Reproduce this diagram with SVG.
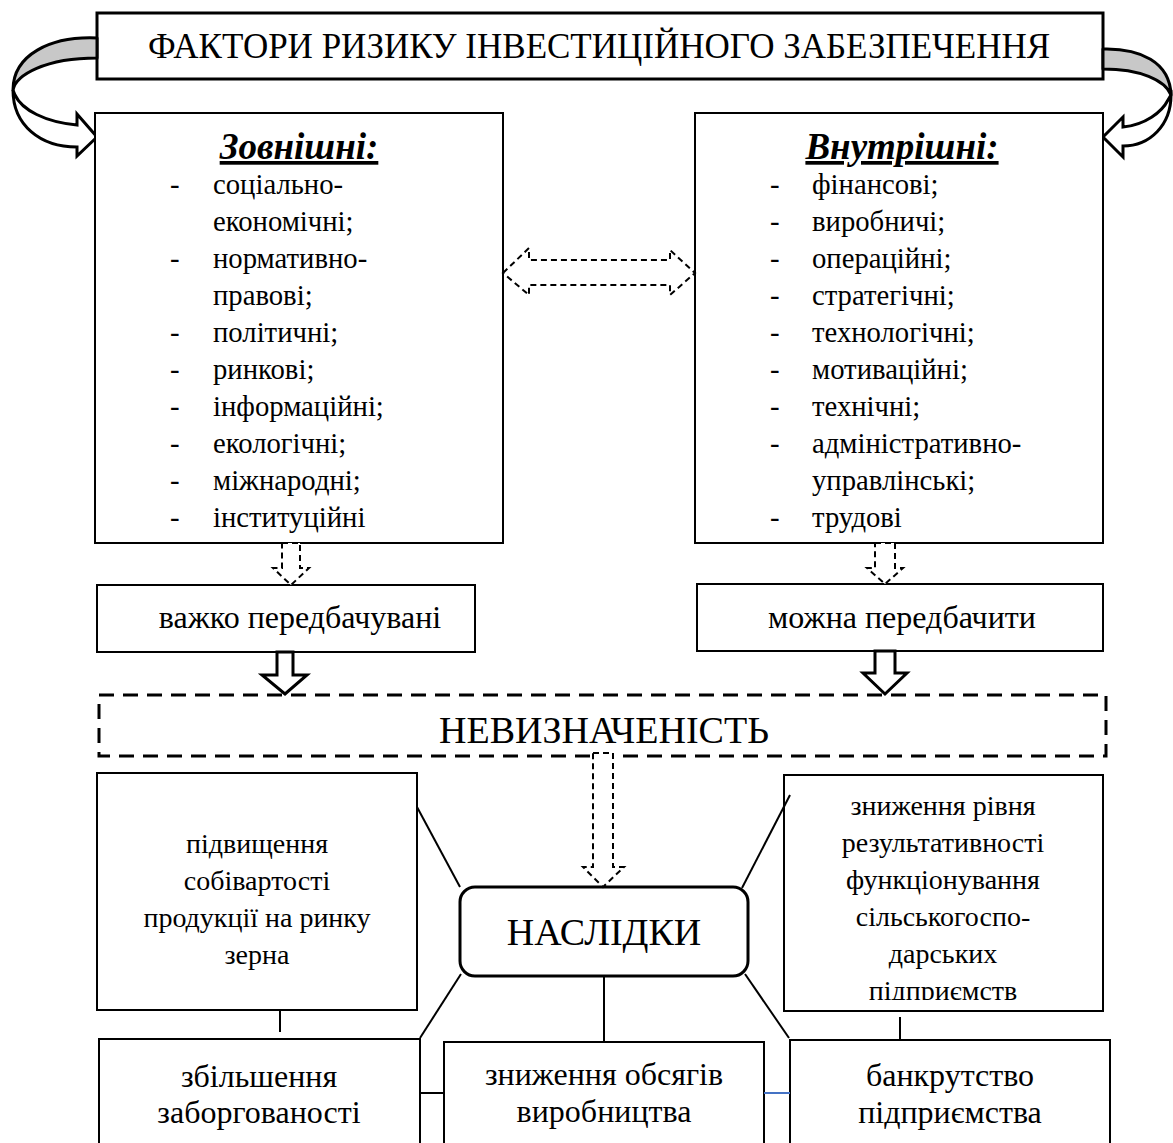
<svg xmlns="http://www.w3.org/2000/svg" width="1173" height="1143" viewBox="0 0 1173 1143">
  <style>
    text { font-family: "Liberation Serif", "Times New Roman", serif; fill: #000; }
    .box { fill: #fff; stroke: #000; stroke-width: 2; }
    .thick { fill: #fff; stroke: #000; stroke-width: 3; }
    .dash { fill: #fff; stroke: #000; stroke-width: 2; stroke-dasharray: 6 4; }
    .line { fill: none; stroke: #000; stroke-width: 2; }
    .t28 { font-size: 28px; }
    .list { font-size: 28.7px; }
    .t32 { font-size: 32px; }
    .head { font-size: 37px; font-weight: bold; font-style: italic; text-decoration: underline; }
    .mid { text-anchor: middle; }
  </style>
  <defs>
    <clipPath id="clipRes">
      <rect x="784" y="775" width="319" height="225"/>
    </clipPath>
  </defs>

  <!-- title -->
  <g id="title">
    <rect class="thick" x="97" y="13" width="1006" height="66"/>
    <text class="mid" x="599" y="58" font-size="35">ФАКТОРИ РИЗИКУ ІНВЕСТИЦІЙНОГО ЗАБЕЗПЕЧЕННЯ</text>
  </g>

  <!-- curved arrows from the title to both factor groups -->
  <g id="curve-left">
    <path d="M97,38 C50,36 13,55 13,90 C16,75 45,58 97,58 Z" fill="#c8c8c8" stroke="#000" stroke-width="3" stroke-linejoin="round"/>
    <path d="M13,90 C13,125 40,147 77,147 L77,156 L97,137 L77,114 L77,125 C45,122 22,110 15,95 Z" fill="#fff" stroke="#000" stroke-width="3" stroke-linejoin="miter"/>
  </g>
  <g id="curve-right">
    <path d="M1103,49 C1140,48 1170,62 1171,95 C1165,80 1140,69 1103,69 Z" fill="#c8c8c8" stroke="#000" stroke-width="3" stroke-linejoin="round"/>
    <path d="M1171,95 C1171,125 1150,146 1123,146 L1123,157 L1103,137 L1123,117 L1123,127 C1145,125 1162,112 1168,100 Z" fill="#fff" stroke="#000" stroke-width="3" stroke-linejoin="miter"/>
  </g>

  <!-- external factors -->
  <g id="external">
    <rect class="box" x="95" y="113" width="408" height="430"/>
    <text class="head mid" x="299" y="159">Зовнішні:</text>
    <g class="list">
      <text x="170" y="194">-</text><text x="213" y="194">соціально-</text>
      <text x="213" y="231">економічні;</text>
      <text x="170" y="268">-</text><text x="213" y="268">нормативно-</text>
      <text x="213" y="305">правові;</text>
      <text x="170" y="342">-</text><text x="213" y="342">політичні;</text>
      <text x="170" y="379">-</text><text x="213" y="379">ринкові;</text>
      <text x="170" y="416">-</text><text x="213" y="416">інформаційні;</text>
      <text x="170" y="453">-</text><text x="213" y="453">екологічні;</text>
      <text x="170" y="490">-</text><text x="213" y="490">міжнародні;</text>
      <text x="170" y="527">-</text><text x="213" y="527">інституційні</text>
    </g>
  </g>

  <!-- internal factors -->
  <g id="internal">
    <rect class="box" x="695" y="113" width="408" height="430"/>
    <text class="head mid" x="902" y="159">Внутрішні:</text>
    <g class="list">
      <text x="770" y="194">-</text><text x="812" y="194">фінансові;</text>
      <text x="770" y="231">-</text><text x="812" y="231">виробничі;</text>
      <text x="770" y="268">-</text><text x="812" y="268">операційні;</text>
      <text x="770" y="305">-</text><text x="812" y="305">стратегічні;</text>
      <text x="770" y="342">-</text><text x="812" y="342">технологічні;</text>
      <text x="770" y="379">-</text><text x="812" y="379">мотиваційні;</text>
      <text x="770" y="416">-</text><text x="812" y="416">технічні;</text>
      <text x="770" y="453">-</text><text x="812" y="453">адміністративно-</text>
      <text x="812" y="490">управлінські;</text>
      <text x="770" y="527">-</text><text x="812" y="527">трудові</text>
    </g>
  </g>

  <g id="hard">
    <rect class="box" x="97" y="585" width="378" height="67"/>
    <text class="t32 mid" x="300" y="628">важко передбачувані</text>
  </g>
  <g id="predictable">
    <rect class="box" x="697" y="584" width="406" height="67"/>
    <text class="t32 mid" x="902" y="628">можна передбачити</text>
  </g>

  <g id="uncertainty">
    <rect x="99" y="695" width="1007" height="61" fill="#fff" stroke="#000" stroke-width="3" stroke-dasharray="15 9"/>
    <text class="mid" x="604" y="743" font-size="38">НЕВИЗНАЧЕНІСТЬ</text>
  </g>

  <g id="cost">
    <rect class="box" x="97" y="773" width="320" height="237"/>
    <g class="t28 mid">
      <text x="257" y="853">підвищення</text>
      <text x="257" y="890">собівартості</text>
      <text x="257" y="927">продукції на ринку</text>
      <text x="257" y="964">зерна</text>
    </g>
  </g>

  <g id="efficiency">
    <rect class="box" x="784" y="775" width="319" height="236"/>
    <g class="t28 mid" clip-path="url(#clipRes)">
      <text x="943" y="815">зниження рівня</text>
      <text x="943" y="852">результативності</text>
      <text x="943" y="889">функціонування</text>
      <text x="943" y="926">сільськогоспо-</text>
      <text x="943" y="963">дарських</text>
      <text x="943" y="1000">підприємств</text>
    </g>
  </g>

  <g id="consequences">
    <rect x="460" y="887" width="288" height="89" rx="15" ry="15" fill="#fff" stroke="#000" stroke-width="3"/>
    <text class="mid" x="604" y="945" font-size="38">НАСЛІДКИ</text>
  </g>

  <g id="debt">
    <rect class="box" x="99" y="1039" width="321" height="120"/>
    <g class="t32 mid">
      <text x="259" y="1087">збільшення</text>
      <text x="259" y="1123">заборгованості</text>
    </g>
  </g>
  <g id="output">
    <rect class="box" x="444" y="1042" width="320" height="120"/>
    <g class="t32 mid">
      <text x="604" y="1085">зниження обсягів</text>
      <text x="604" y="1122">виробництва</text>
    </g>
  </g>
  <g id="bankruptcy">
    <rect class="box" x="790" y="1040" width="320" height="120"/>
    <g class="t32 mid">
      <text x="950" y="1086">банкрутство</text>
      <text x="950" y="1123">підприємства</text>
    </g>
  </g>

  <g id="connectors">
    <!-- dashed two-way arrow between the factor groups -->
    <path class="dash" d="M503,273 L529,248 L529,260 L670,260 L670,250 L695,273 L670,295 L670,285 L529,285 L529,295 Z"/>
    <!-- dashed arrows to the predictability boxes -->
    <path class="dash" d="M282,543 L300,543 L300,568 L309,568 L291,585 L273,568 L282,568 Z"/>
    <path class="dash" d="M875,543 L895,543 L895,568 L903,568 L885,584 L867,568 L875,568 Z"/>
    <!-- hollow arrows into the uncertainty frame -->
    <path class="thick" d="M277,652 L293,652 L293,675 L307,675 L285,694 L262,675 L277,675 Z"/>
    <path class="thick" d="M875,651 L895,651 L895,673 L907,673 L885,694 L863,673 L875,673 Z"/>
    <!-- dashed arrow from uncertainty to consequences -->
    <path class="dash" d="M593,753 L613,753 L613,867 L624,867 L603,887 L583,867 L593,867 Z"/>
    <!-- plain links around the consequences -->
    <line class="line" x1="417" y1="807" x2="460" y2="887"/>
    <line class="line" x1="790" y1="795" x2="742" y2="888"/>
    <line class="line" x1="461" y1="974" x2="420" y2="1038"/>
    <line class="line" x1="604" y1="976" x2="604" y2="1041"/>
    <line class="line" x1="745" y1="974" x2="789" y2="1038"/>
    <line class="line" x1="280" y1="1010" x2="280" y2="1032"/>
    <line class="line" x1="900" y1="1017" x2="900" y2="1040"/>
    <line class="line" x1="420" y1="1093" x2="444" y2="1093"/>
    <line x1="764" y1="1093" x2="790" y2="1093" stroke="#4472c4" stroke-width="2"/>
  </g>
</svg>
